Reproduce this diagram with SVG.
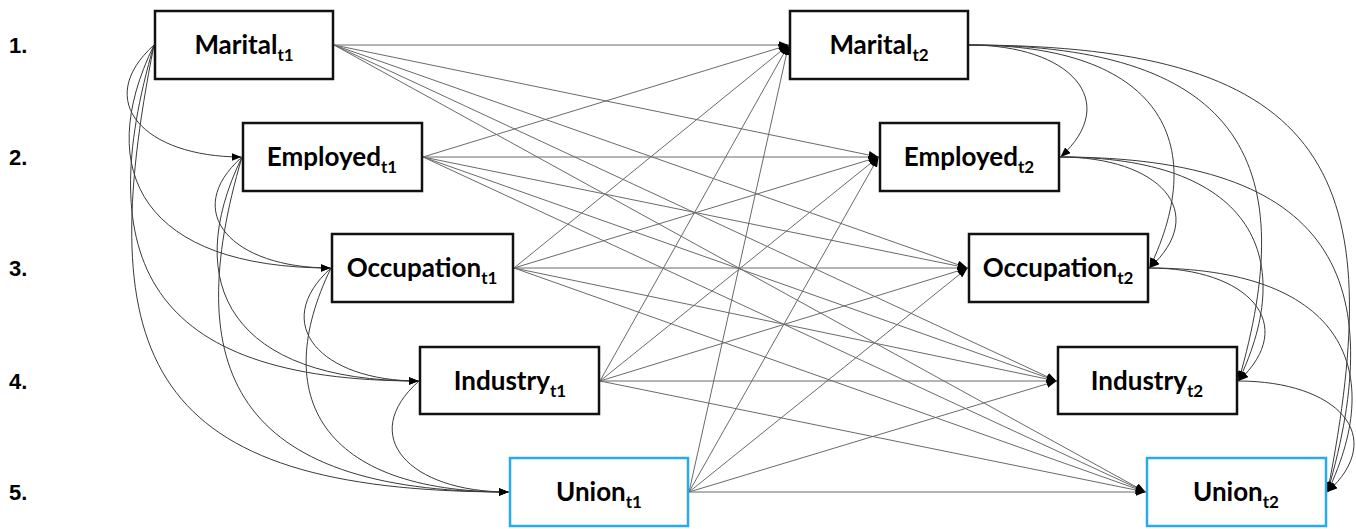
<svg xmlns="http://www.w3.org/2000/svg" width="1356" height="529" viewBox="0 0 1356 529">
<style>
.box{fill:#fff;stroke:#111;stroke-width:2.5}
.ubox{fill:#fff;stroke:#29ABE9;stroke-width:2.5}
.lbl{font-family:Lato,"Open Sans",sans-serif;font-weight:bold;font-size:26px;fill:#000;text-anchor:middle}
.sub{font-size:17px}
.row{font-family:"Liberation Sans",Arial,sans-serif;font-weight:bold;font-size:22px;fill:#000}
.ln{stroke:#6a6a6a;stroke-width:1;fill:none;marker-end:url(#ah)}
.cv{stroke:#3a3a3a;stroke-width:1;fill:none;marker-end:url(#ah)}
</style>
<defs>
<marker id="ah" markerUnits="userSpaceOnUse" markerWidth="10" markerHeight="8" refX="10" refY="4" orient="auto">
<path d="M0,0 L10,4 L0,8 z" fill="#000"/>
</marker>
</defs>
<rect width="1356" height="529" fill="#fff"/>
<g id="row-labels">
<text class="row" x="9" y="53">1.</text>
<text class="row" x="9" y="165">2.</text>
<text class="row" x="9" y="276">3.</text>
<text class="row" x="9" y="389">4.</text>
<text class="row" x="9" y="500">5.</text>
</g>
<g id="connectors">
<path class="ln" d="M334,45 L788.5,45"/>
<path class="ln" d="M334,45 L878.5,157"/>
<path class="ln" d="M334,45 L967.5,268"/>
<path class="ln" d="M334,45 L1056.5,381"/>
<path class="ln" d="M334,45 L1145.5,492"/>
<path class="ln" d="M423,157 L788.5,45"/>
<path class="ln" d="M423,157 L878.5,157"/>
<path class="ln" d="M423,157 L967.5,268"/>
<path class="ln" d="M423,157 L1056.5,381"/>
<path class="ln" d="M423,157 L1145.5,492"/>
<path class="ln" d="M514,268 L788.5,45"/>
<path class="ln" d="M514,268 L878.5,157"/>
<path class="ln" d="M514,268 L967.5,268"/>
<path class="ln" d="M514,268 L1056.5,381"/>
<path class="ln" d="M514,268 L1145.5,492"/>
<path class="ln" d="M600,381 L788.5,45"/>
<path class="ln" d="M600,381 L878.5,157"/>
<path class="ln" d="M600,381 L967.5,268"/>
<path class="ln" d="M600,381 L1056.5,381"/>
<path class="ln" d="M600,381 L1145.5,492"/>
<path class="ln" d="M689,492 L788.5,45"/>
<path class="ln" d="M689,492 L878.5,157"/>
<path class="ln" d="M689,492 L967.5,268"/>
<path class="ln" d="M689,492 L1056.5,381"/>
<path class="ln" d="M689,492 L1145.5,492"/>
<path class="cv" d="M154,45 C92,101 144,157 241.5,157"/>
<path class="cv" d="M154,45 C92,172 144,268 330.5,268"/>
<path class="cv" d="M154,45 C92,257 144,381 418.5,381"/>
<path class="cv" d="M154,45 C92,358 144,492 508.5,492"/>
<path class="cv" d="M242,157 C180,212 232,268 330.5,268"/>
<path class="cv" d="M242,157 C180,285 232,381 418.5,381"/>
<path class="cv" d="M242,157 C180,368 232,492 508.5,492"/>
<path class="cv" d="M331,268 C269,324 321,381 418.5,381"/>
<path class="cv" d="M331,268 C269,396 321,492 508.5,492"/>
<path class="cv" d="M419,381 C357,436 409,492 508.5,492"/>
<path class="cv" d="M969,45 C1070,45 1122,101 1060.5,157"/>
<path class="cv" d="M969,45 C1159,45 1211,141 1149.5,268"/>
<path class="cv" d="M969,45 C1248,45 1300,169 1238.5,381"/>
<path class="cv" d="M969,45 C1337,45 1389,179 1327.5,492"/>
<path class="cv" d="M1060,157 C1159,157 1211,212 1149.5,268"/>
<path class="cv" d="M1060,157 C1248,157 1300,253 1238.5,381"/>
<path class="cv" d="M1060,157 C1337,157 1389,281 1327.5,492"/>
<path class="cv" d="M1149,268 C1248,268 1300,324 1238.5,381"/>
<path class="cv" d="M1149,268 C1337,268 1389,364 1327.5,492"/>
<path class="cv" d="M1238,381 C1337,381 1389,436 1327.5,492"/>
</g>
<g id="marital-t1"><rect class="box" x="155" y="11" width="178" height="68"/><text class="lbl" x="244" y="54">Marital<tspan class="sub" dy="7">t1</tspan></text></g>
<g id="employed-t1"><rect class="box" x="243" y="123" width="179" height="68"/><text class="lbl" x="332" y="166">Employed<tspan class="sub" dy="7">t1</tspan></text></g>
<g id="occupation-t1"><rect class="box" x="332" y="234" width="181" height="68"/><text class="lbl" x="422" y="277">Occupation<tspan class="sub" dy="7">t1</tspan></text></g>
<g id="industry-t1"><rect class="box" x="420" y="347" width="179" height="67"/><text class="lbl" x="510" y="390">Industry<tspan class="sub" dy="7">t1</tspan></text></g>
<g id="union-t1"><rect class="ubox" x="510" y="458" width="178" height="68"/><text class="lbl" x="599" y="501">Union<tspan class="sub" dy="7">t1</tspan></text></g>
<g id="marital-t2"><rect class="box" x="790" y="11" width="178" height="68"/><text class="lbl" x="879" y="54">Marital<tspan class="sub" dy="7">t2</tspan></text></g>
<g id="employed-t2"><rect class="box" x="880" y="123" width="179" height="68"/><text class="lbl" x="969" y="166">Employed<tspan class="sub" dy="7">t2</tspan></text></g>
<g id="occupation-t2"><rect class="box" x="969" y="234" width="179" height="68"/><text class="lbl" x="1058" y="277">Occupation<tspan class="sub" dy="7">t2</tspan></text></g>
<g id="industry-t2"><rect class="box" x="1058" y="347" width="179" height="67"/><text class="lbl" x="1147" y="390">Industry<tspan class="sub" dy="7">t2</tspan></text></g>
<g id="union-t2"><rect class="ubox" x="1147" y="458" width="179" height="68"/><text class="lbl" x="1236" y="501">Union<tspan class="sub" dy="7">t2</tspan></text></g>
</svg>
